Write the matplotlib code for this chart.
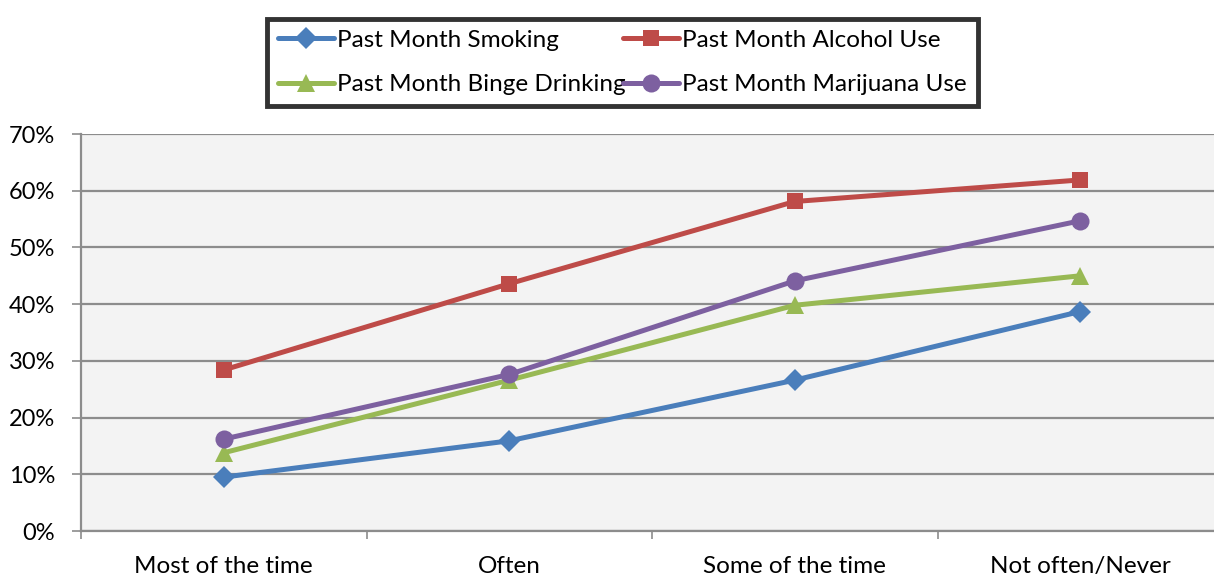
import matplotlib
matplotlib.use("Agg")
import numpy as np
from matplotlib import pyplot as plt
from matplotlib.ticker import FixedLocator

plt.rcParams["font.family"] = ["Lato", "DejaVu Sans"]

categories = ["Most of the time", "Often", "Some of the time", "Not often/Never"]
smoking = [9.5, 15.9, 26.6, 38.7]
alcohol = [28.4, 43.6, 58.1, 61.9]
binge = [13.8, 26.6, 39.8, 45.0]
marijuana = [16.2, 27.6, 44.1, 54.7]

series = [
    ("Past Month Smoking", smoking, "#4A7EBB", "D", 11),
    ("Past Month Alcohol Use", alcohol, "#BE4B48", "s", 12),
    ("Past Month Binge Drinking", binge, "#98B954", "^", 13),
    ("Past Month Marijuana Use", marijuana, "#7D60A0", "o", 13),
]

W, H = 1214, 578
fig = plt.figure(figsize=(W / 100, H / 100), dpi=100)
ax = fig.add_axes([81 / W, 47 / H, 1142 / W, 397 / H])
ax.set_facecolor("#F3F3F3")

x = np.arange(len(categories))
handles = []
for label, vals, color, marker, ms in series:
    (h,) = ax.plot(x, vals, color=color, lw=3.6, marker=marker,
                   markersize=ms, markeredgewidth=0, label=label,
                   solid_capstyle="round", zorder=3)
    handles.append(h)

ax.set_xlim(-0.5, len(categories) - 0.5)
ax.set_ylim(0, 70)
ax.set_yticks(np.arange(0, 71, 10))
ax.set_yticklabels([f"{v}%" for v in range(0, 71, 10)], fontsize=17)
ax.yaxis.grid(True, color="#8C8C8C", lw=1.6, zorder=1)
ax.set_axisbelow(True)

# category labels centred, ticks at the boundaries
ax.set_xticks(x)
ax.set_xticklabels(categories, fontsize=17.5)
ax.tick_params(axis="x", length=0, pad=18)
ax.xaxis.set_minor_locator(FixedLocator(np.arange(-0.5, len(categories), 1)))
ax.tick_params(axis="x", which="minor", length=6, width=1.2, color="#8C8C8C")
ax.tick_params(axis="y", length=6.5, width=1.2, color="#8C8C8C", pad=12)

for side in ["top", "right"]:
    ax.spines[side].set_visible(False)
for side in ["left", "bottom"]:
    ax.spines[side].set_color("#8C8C8C")
    ax.spines[side].set_linewidth(1.6)

# matplotlib fills legend columns first: reorder so rows read
# smoking/alcohol then binge/marijuana
order = [0, 2, 1, 3]
leg = fig.legend(handles=[handles[i] for i in order], ncol=2,
                 loc="lower left", mode="expand",
                 bbox_to_anchor=(267 / W, 1 - 106 / H, 711 / W, 96 / H),
                 fontsize=17.5, frameon=True, fancybox=False,
                 handlelength=2.3, handletextpad=0.15, columnspacing=0.1,
                 borderpad=0.45, labelspacing=0.95, borderaxespad=0)
leg.get_frame().set_edgecolor("black")
leg.get_frame().set_linewidth(3.5)

fig.savefig("out.png", dpi=100)
